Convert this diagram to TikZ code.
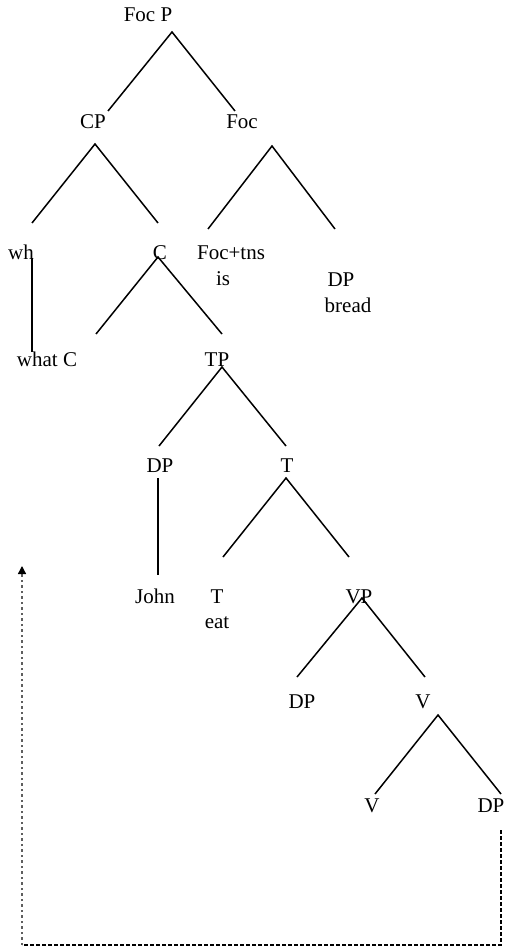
\documentclass[tikz,border=0pt]{standalone}
\usepackage{fontspec}
\setmainfont{Liberation Serif}
\usetikzlibrary{arrows.meta}
\definecolor{movegray}{RGB}{95,95,95}

\begin{document}
\begin{tikzpicture}[x=1pt,y=-1pt,
  cat/.style={inner sep=0pt, anchor=base, font=\fontsize{21}{25}\selectfont},
  branch/.style={line width=1.5pt}]
\useasboundingbox (0,0) rectangle (507,949);

% category labels
\node[cat] (focp) at (148,22) {Foc P};
\node[cat] (cp) at (93,129) {CP};
\node[cat] (foc) at (242,129) {Foc};
\node[cat] (wh) at (21,260) {wh};
\node[cat] (c) at (160,260) {C};
\node[cat] (foctns) at (231,260) {Foc+tns};
\node[cat] (is) at (223,285) {is};
\node[cat] (dpb) at (341,287) {DP};
\node[cat] (bread) at (348,312) {bread};
\node[cat] (whatc) at (47,366) {what C};
\node[cat] (tp) at (217,366) {TP};
\node[cat] (dps) at (160,472) {DP};
\node[cat] (tbar) at (287,472) {T};
\node[cat] (john) at (155,603) {John};
\node[cat] (thead) at (217,603) {T};
\node[cat] (eat) at (217,628) {eat};
\node[cat] (vp) at (359,603) {VP};
\node[cat] (dpv) at (302,708) {DP};
\node[cat] (vbar) at (423,708) {V};
\node[cat] (vhead) at (372,812) {V};
\node[cat] (dpo) at (491,812) {DP};

% forks: apex, left foot, right foot
\foreach \n/\ax/\ay/\lx/\rx/\by in {focp/172/32/108/235/111,
  cp/95/144/32/158/223, foc/272/146/208/335/229, c/158/257/96/222/334,
  tp/222/367/159/286/446, tbar/286/478/223/349/557,
  vp/362/598/297/425/677, vbar/438/715/375/501/794}{
  \coordinate (\n-a) at (\ax,\ay);
  \coordinate (\n-l) at (\lx,\by);
  \coordinate (\n-r) at (\rx,\by);
  \draw[branch] (\n-l) -- (\n-a) -- (\n-r);
}

% non-branching lines
\coordinate (wh-a) at (32,258);
\coordinate (wh-b) at (32,352);
\draw[branch] (wh-a) -- (wh-b);
\coordinate (dps-a) at (158,478);
\coordinate (dps-b) at (158,575);
\draw[branch] (dps-a) -- (dps-b);

% movement path
\coordinate (mv-a) at (501,830);
\coordinate (mv-b) at (501,945);
\coordinate (mv-c) at (22,945);
\coordinate (mv-d) at (22,566);
\draw[line width=1.3pt, dash pattern=on 4pt off 2pt] (mv-a) -- (mv-b) -- (mv-c);
\draw[movegray, line width=1.3pt, dash pattern=on 2.5pt off 3pt,
  -{Triangle[width=8pt,length=8pt,black]}] (mv-c) -- (mv-d);
\end{tikzpicture}
\end{document}
